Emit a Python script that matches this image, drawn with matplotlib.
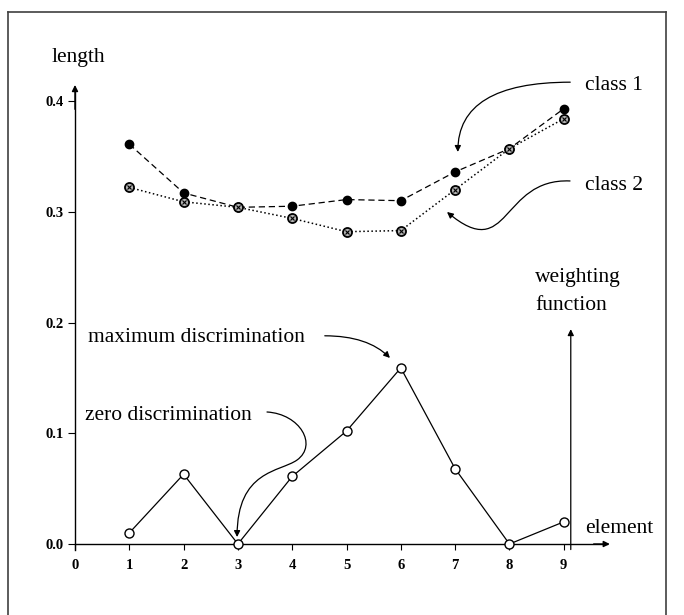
#!/usr/bin/env python3
# length of elements for two classes and the weighting function

import matplotlib
matplotlib.use("Agg")
import matplotlib.pyplot as plt
from matplotlib.path import Path
from matplotlib.patches import FancyArrowPatch
from matplotlib.lines import Line2D

#==================================================================
elements = [1, 2, 3, 4, 5, 6, 7, 8, 9]
class1 = [0.361, 0.317, 0.304, 0.305, 0.311, 0.310, 0.336, 0.357, 0.393]
class2 = [0.322, 0.309, 0.304, 0.294, 0.282, 0.283, 0.320, 0.357, 0.384]
weights = [0.010, 0.063, 0.000, 0.061, 0.102, 0.159, 0.068, 0.000, 0.020]

xticks = [0, 1, 2, 3, 4, 5, 6, 7, 8, 9]
yticks = [0.0, 0.1, 0.2, 0.3, 0.4]
ytick_labels = ['0.0', '0.1', '0.2', '0.3', '0.4']

plt.rcParams['font.family'] = ['Liberation Serif', 'DejaVu Serif']
FS = 15.5

#==================================================================
def curved_arrow(ax, verts, codes):
    p = FancyArrowPatch(path=Path(verts, codes), arrowstyle='-|>',
                        mutation_scale=9, lw=0.9, color='k')
    ax.add_patch(p)

#==================================================================
def real_main():
    fig = plt.figure(figsize=(6.84, 6.15), dpi=100)
    ax = fig.add_axes([0, 0, 1, 1])
    ax.set_xlim(-1.381, 11.215)
    ax.set_ylim(-0.0641, 0.4912)

    # axes through the origin
    for s in ['top', 'right']:
        ax.spines[s].set_visible(False)
    ax.spines['left'].set_position(('data', 0))
    ax.spines['bottom'].set_position(('data', 0))
    ax.spines['left'].set_bounds(-0.005, 0.41)
    ax.spines['bottom'].set_bounds(0, 9.8)
    ax.spines['left'].set_linewidth(1.0)
    ax.spines['bottom'].set_linewidth(1.0)
    ax.annotate('', xy=(0, 0.417), xytext=(0, 0.39),
                arrowprops=dict(arrowstyle='-|>', color='k', lw=1, mutation_scale=9))
    ax.annotate('', xy=(9.9, 0), xytext=(9.5, 0),
                arrowprops=dict(arrowstyle='-|>', color='k', lw=1, mutation_scale=9))

    ax.set_xticks(xticks)
    ax.set_yticks(yticks)
    ax.set_yticklabels(ytick_labels)
    ax.tick_params(axis='x', direction='out', length=4, pad=7, labelsize=10.5)
    ax.tick_params(axis='y', direction='out', length=5, pad=3, labelsize=10.5)
    for lab in ax.get_xticklabels() + ax.get_yticklabels():
        lab.set_fontweight('bold')

    # data
    ax.plot(elements, class1, color='k', ls='--', dashes=(5, 3), lw=0.9,
            marker='o', ms=6, mfc='k', mec='k', zorder=3)
    ax.plot(elements, class2, color='k', ls=':', lw=1.1,
            marker='o', ms=6.5, mfc='0.7', mec='k', mew=1.3, zorder=4)
    ax.plot(elements, class2, ls='none', marker='x', ms=3.2, mec='k', mew=0.8, zorder=5)
    ax.plot(elements, weights, color='k', ls='-', lw=0.9,
            marker='o', ms=6.5, mfc='white', mec='k', mew=1.0, zorder=6, clip_on=False)

    # weighting function axis
    ax.annotate('', xy=(9.13, 0.194), xytext=(9.13, -0.005),
                arrowprops=dict(arrowstyle='-|>', color='k', lw=0.9, mutation_scale=9,
                                shrinkA=0, shrinkB=0))

    # labels
    ax.text(0.055, 0.4415, 'length', fontsize=FS, ha='center', va='center_baseline')
    ax.text(9.39, 0.4163, 'class 1', fontsize=FS, ha='left', va='center_baseline')
    ax.text(9.39, 0.326, 'class 2', fontsize=FS, ha='left', va='center_baseline')
    ax.text(8.47, 0.2429, 'weighting', fontsize=FS, ha='left', va='center_baseline')
    ax.text(8.47, 0.2176, 'function', fontsize=FS, ha='left', va='center_baseline')
    ax.text(0.239, 0.1887, 'maximum discrimination', fontsize=FS, ha='left', va='center_baseline')
    ax.text(0.184, 0.1183, 'zero discrimination', fontsize=FS, ha='left', va='center_baseline')
    ax.text(9.39, 0.0163, 'element', fontsize=FS, ha='left', va='center_baseline')

    # pointers
    ax.annotate('', xy=(7.05, 0.354), xytext=(9.12, 0.417),
                arrowprops=dict(arrowstyle='-|>', color='k', lw=0.9, mutation_scale=9,
                                shrinkA=0, shrinkB=0,
                                connectionstyle='angle3,angleA=0,angleB=90'))
    ax.annotate('', xy=(5.80, 0.168), xytext=(4.60, 0.188),
                arrowprops=dict(arrowstyle='-|>', color='k', lw=0.9, mutation_scale=9,
                                shrinkA=0, shrinkB=0,
                                connectionstyle='angle3,angleA=0,angleB=-45'))
    C4 = Path.CURVE4
    curved_arrow(ax, [(9.116, 0.3278), (7.827, 0.3305), (8.011, 0.2519), (6.851, 0.2998)],
                 [Path.MOVETO, C4, C4, C4])
    curved_arrow(ax, [(3.536, 0.1192), (4.144, 0.1174), (4.475, 0.0894), (4.088, 0.0758),
                      (3.775, 0.0650), (2.985, 0.0668), (2.985, 0.0063)],
                 [Path.MOVETO, C4, C4, C4, C4, C4, C4])

    # page frame
    fx0, fx1, fy1 = 8 / 684, 666 / 684, 1 - 12 / 615
    for xs, ys in [([fx0, fx0], [0, fy1]), ([fx0, fx1], [fy1, fy1]), ([fx1, fx1], [fy1, 0])]:
        fig.add_artist(Line2D(xs, ys, color='0.25', lw=1.2, transform=fig.transFigure))

    fig.savefig('out.png', dpi=100)


#==================================================================
if __name__ == "__main__":
    real_main()
